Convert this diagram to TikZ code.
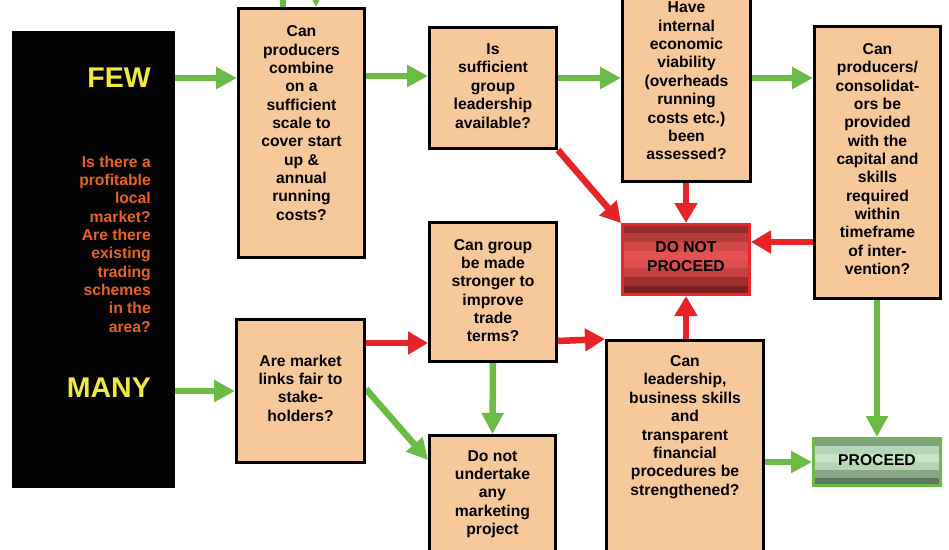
\documentclass[tikz,border=0pt]{standalone}
\usepackage{fontspec}
\setmainfont{Liberation Sans}
\usetikzlibrary{arrows.meta,calc}
\definecolor{boxfill}{RGB}{247,200,153}
\definecolor{garr}{RGB}{108,187,69}
\definecolor{rarr}{RGB}{230,36,40}
\definecolor{fewyel}{RGB}{240,234,64}
\definecolor{qorange}{RGB}{232,98,32}
\definecolor{dnpborder}{RGB}{232,40,44}
\definecolor{panelblack}{RGB}{3,3,3}
\definecolor{d1}{RGB}{150,43,43}
\definecolor{d2}{RGB}{180,60,60}
\definecolor{d3}{RGB}{208,72,72}
\definecolor{d4}{RGB}{226,82,82}
\definecolor{d5}{RGB}{220,78,78}
\definecolor{d6}{RGB}{196,66,66}
\definecolor{d7}{RGB}{158,47,47}
\definecolor{d8}{RGB}{125,31,31}
\definecolor{p1}{RGB}{127,160,127}
\definecolor{p2}{RGB}{181,214,181}
\definecolor{p3}{RGB}{197,229,197}
\definecolor{p4}{RGB}{181,213,181}
\definecolor{p5}{RGB}{136,168,136}
\definecolor{p6}{RGB}{96,120,96}
\pgfdeclarelayer{bg}
\pgfsetlayers{bg,main}
\tikzset{
  qbox/.style={draw=black, line width=3pt, fill=boxfill, inner sep=0pt},
  qtext/.style={font=\fontsize{15.7}{18.35}\selectfont\bfseries, align=center, inner sep=0pt, text=black},
  garrow/.style={draw=garr, line width=6.5pt, -{Triangle[length=21pt,width=21pt]}},
  rarrow/.style={draw=rarr, line width=6.5pt, -{Triangle[length=20pt,width=22pt]}},
  gline/.style={draw=garr, line width=6.5pt},
  striped/.style n args={2}{path picture={
    \foreach \c [count=\i from 0] in {#1}{
      \pgfmathsetmacro\ta{\i/#2}\pgfmathsetmacro\tb{(\i+1)/#2}
      \fill[\c] ($(path picture bounding box.north west)!\ta!(path picture bounding box.south west)$) rectangle ($(path picture bounding box.north east)!\tb!(path picture bounding box.south east)$);
    }}},
  dnpbox/.style={draw=dnpborder, line width=3pt, inner sep=0pt, striped={d1,d2,d3,d4,d5,d6,d7,d8}{8}},
  probox/.style={draw=garr, line width=3pt, inner sep=0pt, striped={p1,p2,p3,p4,p5,p6}{6}}
}
\begin{document}
\begin{tikzpicture}[x=1pt,y=-1pt]
\useasboundingbox (0,0) rectangle (949,549);
\clip (0,0) rectangle (949,549);

% left panel
\node[fill=panelblack, minimum width=163pt, minimum height=457pt, inner sep=0pt] (panel) at (93.5,259.5) {};
\node[font=\fontsize{28.5}{30}\selectfont\bfseries, text=fewyel, anchor=east, inner sep=0pt] (few) at (151,78) {FEW};
\node[font=\fontsize{28.5}{30}\selectfont\bfseries, text=fewyel, anchor=east, inner sep=0pt] (many) at (151,388) {MANY};
\node[font=\fontsize{15.7}{18.35}\selectfont\bfseries, text=qorange, anchor=east, align=right, inner sep=0pt] (q0) at (151,244) {Is there a\\profitable\\local\\market?\\Are there\\existing\\trading\\schemes\\in the\\area?};

% boxes
\node[qbox, minimum width=126pt, minimum height=249pt] (box1) at (301.5,133) {};
\node[qbox, minimum width=127pt, minimum height=121pt] (box2) at (493,88) {};
\node[qbox, minimum width=128pt, minimum height=200pt] (box3) at (686.5,81.5) {};
\node[qbox, minimum width=126pt, minimum height=272pt] (box4) at (877.5,162.5) {};
\node[dnpbox, minimum width=127pt, minimum height=70pt] (dnp) at (686,259.5) {};
\node[qbox, minimum width=127pt, minimum height=139pt] (box5) at (493,292) {};
\node[qbox, minimum width=128pt, minimum height=143pt] (box6) at (300.5,391) {};
\node[qbox, minimum width=126pt, minimum height=133pt] (box7) at (492.5,502) {};
\node[qbox, minimum width=157pt, minimum height=228pt] (box8) at (685,454.5) {};
\node[probox, minimum width=127pt, minimum height=47pt] (proceed) at (877,462) {};

% texts
\node[qtext] (t1) at (301.5,123) {Can\\producers\\combine\\on a\\sufficient\\scale to\\cover start\\up \&\\annual\\running\\costs?};
\node[qtext] (t2) at (493,86) {Is\\sufficient\\group\\leadership\\available?};
\node[qtext] (t3) at (686.5,81) {Have\\internal\\economic\\viability\\(overheads\\running\\costs etc.)\\been\\assessed?};
\node[qtext] (t4) at (877.5,159) {Can\\producers/\\consolidat-\\ors be\\provided\\with the\\capital and\\skills\\required\\within\\timeframe\\of inter-\\vention?};
\node[qtext] (tdnp) at (686,256.5) {DO NOT\\PROCEED};
\node[qtext] (t5) at (493,290.5) {Can group\\be made\\stronger to\\improve\\trade\\terms?};
\node[qtext] (t6) at (300.5,388) {Are market\\links fair to\\stake-\\holders?};
\node[qtext] (t7) at (492.5,494) {Do not\\undertake\\any\\marketing\\project};
\node[qtext] (t8) at (685,427) {Can\\leadership,\\business skills\\and\\transparent\\financial\\procedures be\\strengthened?};
\node[qtext] (tpro) at (877,460.5) {PROCEED};

\coordinate (offA) at (283,-40);
\coordinate (offB) at (316,-40);

\begin{pgfonlayer}{bg}
\fill[white] (0,0) rectangle (949,549);
\draw[garrow] (panel.east |- 0,78) -- (box1.west |- 0,78);
\draw[garrow] (panel.east |- 0,391) -- (box6.west |- 0,391);
\draw[garrow] (box1.east |- 0,76) -- (box2.west |- 0,76);
\draw[garrow] (box2.east |- 0,78) -- (box3.west |- 0,78);
\draw[garrow] (box3.east |- 0,78) -- (box4.west |- 0,78);
\draw[rarrow] (box2.south east) -- (dnp.north west);
\draw[rarrow] (dnp.north |- box3.south) -- (dnp.north);
\draw[rarrow] (box4.west |- 0,242) -- (dnp.east |- 0,242);
\draw[rarrow] (dnp.south |- box8.north) -- (dnp.south);
\draw[rarrow] (box6.east |- 0,343) -- (box5.west |- 0,343);
\draw[rarrow] (box5.east |- 0,341) -- (box8.west |- 0,339);
\draw[garrow] (box5.south) -- (box7.north);
\draw[garrow] (box6.east |- 0,389) -- (box7.west |- 0,460);
\draw[garrow] (proceed.north |- box4.south) -- (proceed.north);
\draw[garrow] (box8.east |- 0,462) -- (proceed.west);
\draw[gline] (box1.north -| offA) -- (offA);
\draw[garrow] (offB) -- (box1.north -| offB);
\end{pgfonlayer}
\end{tikzpicture}
\end{document}
